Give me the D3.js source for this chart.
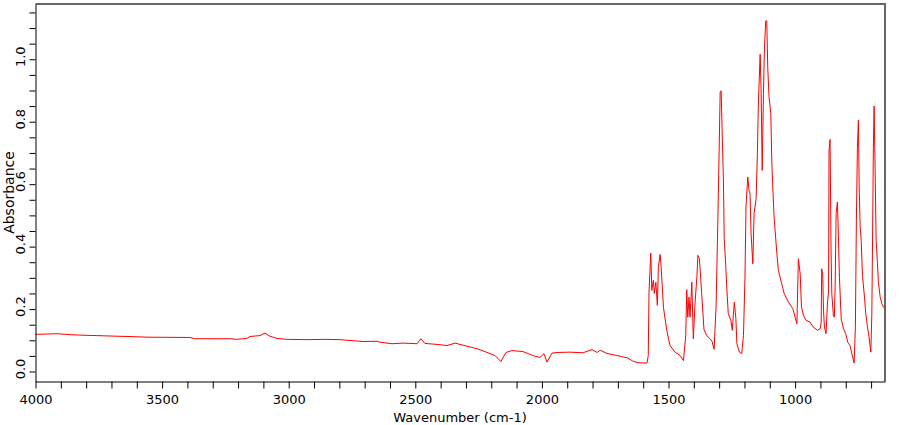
<!DOCTYPE html>
<html>
<head>
<meta charset="utf-8">
<script src="https://cdn.jsdelivr.net/npm/d3@7"></script>
<style>
    body { margin: 0; background: #fff; }
</style>
</head>
<body>
<div id="chart"></div>
<script>
// Spectrum: [wavenumber (cm-1), absorbance]
// flat part, 4000 - 1585 cm-1
const baseline = [
    [4000, 0.119], [3912, 0.121], [3864, 0.118], [3805, 0.116], [3758, 0.115],
    [3679, 0.113], [3627, 0.112], [3560, 0.110], [3390, 0.109], [3371, 0.105],
    [3232, 0.105], [3205, 0.103], [3165, 0.106], [3153, 0.112], [3114, 0.115],
    [3094, 0.123], [3074, 0.113], [3047, 0.106], [3007, 0.103], [2928, 0.102],
    [2857, 0.103], [2798, 0.102], [2707, 0.096], [2651, 0.097], [2640, 0.094],
    [2592, 0.089], [2549, 0.091], [2493, 0.089], [2478, 0.105], [2462, 0.090],
    [2403, 0.086], [2375, 0.083], [2343, 0.091], [2296, 0.081], [2256, 0.073],
    [2217, 0.061], [2185, 0.051], [2162, 0.032], [2142, 0.061], [2118, 0.067],
    [2075, 0.064], [2035, 0.051], [2008, 0.045], [1992, 0.057], [1980, 0.030],
    [1960, 0.059], [1936, 0.061], [1889, 0.062], [1838, 0.060], [1802, 0.070],
    [1782, 0.061], [1770, 0.068], [1743, 0.058], [1703, 0.051], [1660, 0.043],
    [1640, 0.033], [1620, 0.028], [1585, 0.027]
]

// band region, 1580 - 645 cm-1
const bands = [
    [1580, 0.051], [1577, 0.254], [1570, 0.379], [1566, 0.260], [1560, 0.292],
    [1556, 0.250], [1550, 0.286], [1544, 0.212], [1540, 0.334], [1533, 0.375],
    [1529, 0.334], [1520, 0.206], [1507, 0.132], [1494, 0.083], [1474, 0.062],
    [1454, 0.051], [1441, 0.035], [1432, 0.115], [1428, 0.262], [1424, 0.174],
    [1419, 0.238], [1415, 0.174], [1408, 0.286], [1402, 0.105], [1395, 0.222],
    [1388, 0.302], [1384, 0.372], [1378, 0.362], [1369, 0.250], [1360, 0.135],
    [1349, 0.115], [1336, 0.105], [1328, 0.096], [1320, 0.071], [1312, 0.212],
    [1305, 0.490], [1300, 0.709], [1296, 0.896], [1292, 0.899], [1288, 0.762],
    [1283, 0.607], [1280, 0.426], [1274, 0.340], [1270, 0.270], [1264, 0.185],
    [1254, 0.164], [1248, 0.132], [1244, 0.180], [1240, 0.222], [1234, 0.169],
    [1230, 0.089], [1220, 0.062], [1211, 0.057], [1204, 0.115], [1198, 0.302],
    [1194, 0.527], [1187, 0.623], [1182, 0.580], [1178, 0.570], [1174, 0.442],
    [1167, 0.345], [1162, 0.506], [1154, 0.554], [1149, 0.698], [1145, 0.863],
    [1138, 1.016], [1134, 0.890], [1130, 0.644], [1125, 0.890], [1121, 1.040],
    [1116, 1.123], [1112, 1.123], [1108, 0.971], [1103, 0.880], [1096, 0.826],
    [1092, 0.671], [1088, 0.586], [1083, 0.495], [1079, 0.452], [1072, 0.377],
    [1066, 0.324], [1053, 0.281], [1043, 0.249], [1026, 0.222], [1009, 0.201],
    [1000, 0.174], [993, 0.153], [987, 0.361], [980, 0.313], [975, 0.206],
    [967, 0.180], [957, 0.164], [941, 0.158], [928, 0.142], [912, 0.132],
    [901, 0.137], [897, 0.158], [895, 0.329], [891, 0.313], [888, 0.196],
    [884, 0.142], [878, 0.121], [872, 0.222], [868, 0.254], [866, 0.709],
    [862, 0.743], [858, 0.383], [855, 0.249], [849, 0.180], [845, 0.174],
    [842, 0.270], [838, 0.506], [833, 0.543], [829, 0.436], [825, 0.302],
    [818, 0.169], [809, 0.137], [800, 0.121], [792, 0.094], [783, 0.083],
    [776, 0.057], [767, 0.027], [762, 0.142], [758, 0.484], [754, 0.714],
    [750, 0.805], [747, 0.591], [743, 0.463], [739, 0.420], [734, 0.308],
    [726, 0.238], [721, 0.185], [714, 0.142], [708, 0.110], [701, 0.062],
    [697, 0.184], [693, 0.527], [691, 0.714], [688, 0.850], [684, 0.644],
    [680, 0.420], [675, 0.350], [671, 0.286], [664, 0.238], [657, 0.217],
    [651, 0.206], [645, 0.206]
]

const spectrum = baseline.concat(bands)

// axis ticks
const xTicks = d3.range(4000, 600, -100)
const xLabels = [4000, 3500, 3000, 2500, 2000, 1500, 1000]
const yTicks = d3.range(0, 24).map((i) => i * 0.05)
const yLabels = [0, 0.2, 0.4, 0.6, 0.8, 1.0]

let width = 910
let height = 425
let font = '"DejaVu Sans", sans-serif'

let svg = d3.select('#chart').append('svg')
    .attr('width', width)
    .attr('height', height)

let x = d3.scaleLinear().domain([4000, 645]).range([35.5, 885])
let y = d3.scaleLinear().domain([-0.032, 1.177]).range([381.5, 4])

// frame, top and right in gray
svg.append('path')
    .attr('d', 'M35.5,4H885V381.5')
    .attr('fill', 'none')
    .attr('stroke', '#666')
    .attr('stroke-width', 2)

let line = d3.line()
    .x((d) => x(d[0]))
    .y((d) => y(d[1]))

svg.append('path')
    .datum(spectrum)
    .attr('d', line)
    .attr('fill', 'none')
    .attr('stroke', '#ff0000')
    .attr('stroke-width', 1)

let xAxis = d3.axisBottom(x)
    .tickValues(xTicks)
    .tickSize(7)
    .tickSizeOuter(0)
    .tickPadding(6)
    .tickFormat((d) => xLabels.includes(d) ? d : '')

// the axis call resets font attrs, so set them afterwards
svg.append('g')
    .attr('transform', 'translate(0,381.5)')
    .call(xAxis)
    .attr('font-size', 13)
    .attr('font-family', font)

let yAxis = d3.axisLeft(y)
    .tickValues(yTicks)
    .tickSize(6)
    .tickSizeOuter(0)
    .tickFormat((d) => yLabels.some((v) => Math.abs(v - d) < 1e-6) ? d3.format('.1f')(d) : '')

svg.append('g')
    .attr('transform', 'translate(35.5,0)')
    .call(yAxis)
    .attr('font-size', 13)
    .attr('font-family', font)
    .call((g) => g.selectAll('.tick text')
        .attr('x', 0)
        .attr('dy', 0)
        .attr('text-anchor', 'middle')
        .attr('transform', 'translate(-11,-3) rotate(-90)'))

svg.append('text')
    .attr('x', 460)
    .attr('y', 422)
    .attr('text-anchor', 'middle')
    .attr('font-size', 13)
    .attr('font-family', font)
    .text('Wavenumber (cm-1)')

svg.append('text')
    .attr('transform', 'translate(14,192.5) rotate(-90)')
    .attr('text-anchor', 'middle')
    .attr('font-size', 14)
    .attr('font-family', font)
    .text('Absorbance')
</script>
</body>
</html>
